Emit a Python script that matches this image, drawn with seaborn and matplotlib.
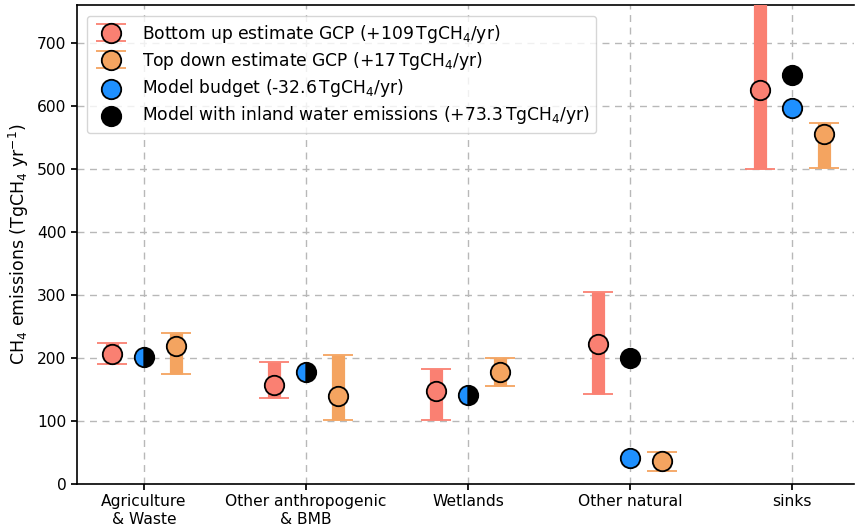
import numpy as np
import matplotlib
matplotlib.use("Agg")
import matplotlib.pyplot as plt
import seaborn as sns

categories = ["Agriculture\n& Waste", "Other anthropogenic\n& BMB", "Wetlands", "Other natural", "sinks"]

# GCP bottom-up estimate (mean, min, max)
bu_mean = [206, 157, 148, 222, 625]
bu_low = [191, 137, 102, 143, 500]
bu_high = [224, 194, 182, 305, 798]

# GCP top-down estimate
td_mean = [219, 139, 177, 37, 556]
td_low = [175, 102, 155, 21, 501]
td_high = [239, 204, 200, 50, 573]

# model budget and model with inland water
model = [201, 178, 141, 41, 596]
model_inland = [201, 178, 141, 200, 649]

labels = [r"Bottom up estimate GCP (+109$\,$TgCH$_4$/yr)",
          r"Top down estimate GCP (+17$\,$TgCH$_4$/yr)",
          r"Model budget (-32.6$\,$TgCH$_4$/yr)",
          r"Model with inland water emissions (+73.3$\,$TgCH$_4$/yr)"]

c_bu = "salmon"
c_td = "sandybrown"
c_mod = "dodgerblue"
c_in = "black"

sns.set_theme(style="ticks")
plt.rcParams["font.family"] = ["DejaVu Sans"]
plt.rcParams["text.color"] = "black"
plt.rcParams["axes.labelcolor"] = "black"
plt.rcParams["xtick.color"] = "black"
plt.rcParams["ytick.color"] = "black"

fig = plt.figure(figsize=(8.55, 5.26), dpi=100)
ax = fig.add_axes([0.090, 0.080, 0.909, 0.9105])

x = np.arange(len(categories))
off = 0.2
ms = 14

def draw_est(xs, mean, low, high, col, lab):
    mean = np.array(mean, dtype=float)
    yerr = [mean - np.array(low), np.array(high) - mean]
    ax.errorbar(xs, mean, yerr=yerr, fmt="o", color=col, ecolor=col, elinewidth=9.5,
                capsize=11, capthick=1.5, ms=ms, mfc=col, mec="black", mew=1.3,
                label=lab, zorder=3)

draw_est(x - off, bu_mean, bu_low, bu_high, c_bu, labels[0])
draw_est(x + off, td_mean, td_low, td_high, c_td, labels[1])

model = np.array(model)
model_inland = np.array(model_inland)
same = model == model_inland
# half markers where both models agree
ax.plot(x[same], model[same], "o", ls="none", ms=ms, mfc=c_mod, mfcalt=c_in,
        fillstyle="left", mec="black", mew=1.3, zorder=4)
sns.scatterplot(x=x[~same], y=model_inland[~same], color=c_in, s=ms**2, edgecolor="black",
                linewidth=1.3, zorder=4, ax=ax, label=labels[3])
sns.scatterplot(x=x[~same], y=model[~same], color=c_mod, s=ms**2, edgecolor="black",
                linewidth=1.3, zorder=4, ax=ax, label=labels[2])

ax.set_xticks(x)
ax.set_xticklabels(categories, fontsize=11.2)
ax.tick_params(axis="y", labelsize=11.2)
ax.set_xlim(-0.414, 4.383)
ax.set_ylim(0, 760)
ax.set_yticks(np.arange(0, 701, 100))
ax.set_ylabel(r"CH$_4$ emissions (TgCH$_4$ yr$^{-1}$)", fontsize=12.5)
ax.grid(True, ls=(0, (5, 4)), color="#b8b8b8", lw=1)
ax.set_axisbelow(True)
ax.spines["right"].set_visible(False)
for s in ["left", "bottom", "top"]:
    ax.spines[s].set_color("black")
    ax.spines[s].set_linewidth(1.2)
ax.tick_params(direction="out", length=4, color="black")

h, l = ax.get_legend_handles_labels()
order = [l.index(lab) for lab in labels]
ax.legend([h[i] for i in order], [l[i] for i in order], loc="upper left", fontsize=12.3,
          frameon=True, fancybox=True, framealpha=0.8, edgecolor="#cccccc",
          bbox_to_anchor=(0.002, 0.995), borderpad=0.4, labelspacing=0.3)

fig.savefig("out.png", dpi=100)
